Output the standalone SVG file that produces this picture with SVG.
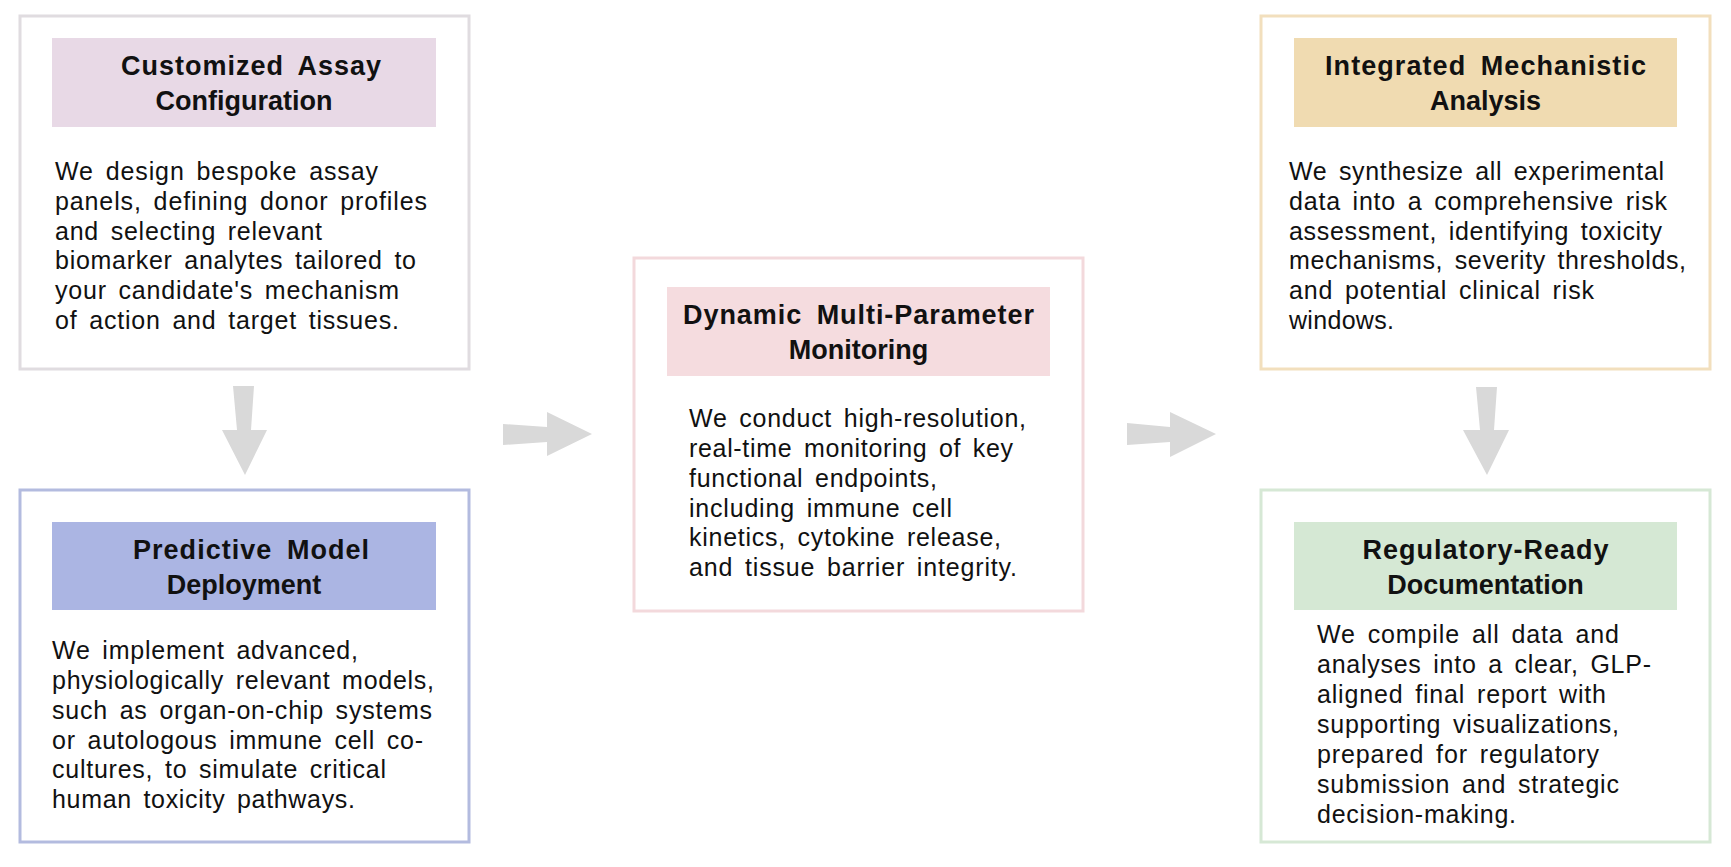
<svg xmlns="http://www.w3.org/2000/svg" width="1731" height="867" viewBox="0 0 1731 867">
<style>
.box{fill:#ffffff;stroke-width:3}
.title{font-family:"Liberation Sans",Arial,sans-serif;font-size:27px;font-weight:bold;fill:#111111;text-anchor:middle;word-spacing:6px}
.body{font-family:"Liberation Sans",Arial,sans-serif;font-size:25px;fill:#111111;letter-spacing:1px;word-spacing:4px}
.arrow{fill:#d9d9d9}
</style>
<rect width="1731" height="867" fill="#ffffff"/>
<g id="connectors">
<polygon class="arrow" points="233,386 254,386 251,430 267,430 245,475 222,430 237,430"/>
<polygon class="arrow" points="503,424 547,427 547,412 592,434 547,456 547,442 503,445"/>
<polygon class="arrow" points="1127,423 1170,427 1170,412 1216,434 1170,457 1170,442 1127,445"/>
<polygon class="arrow" points="1476,387 1497,387 1494,430 1509,430 1487,475 1463,430 1480,430"/>
</g>
<g id="node-assay">
<rect class="box" x="20" y="16" width="449" height="353" stroke="#e0dce0"/>
<rect x="52" y="38" width="384" height="89" fill="#e8d9e6"/>
<text class="title" x="251" y="75" textLength="260">Customized Assay</text>
<text class="title" x="244" y="110">Configuration</text>
<text class="body" x="55" y="180" textLength="324">We design bespoke assay</text>
<text class="body" x="55" y="210" textLength="373">panels, defining donor profiles</text>
<text class="body" x="55" y="240" textLength="268">and selecting relevant</text>
<text class="body" x="55" y="269" textLength="362">biomarker analytes tailored to</text>
<text class="body" x="55" y="299" textLength="345">your candidate's mechanism</text>
<text class="body" x="55" y="329" textLength="345">of action and target tissues.</text>
</g>
<g id="node-model">
<rect class="box" x="20" y="490" width="449" height="352" stroke="#b3bbdf"/>
<rect x="52" y="522" width="384" height="88" fill="#abb5e3"/>
<text class="title" x="251" y="559" textLength="236">Predictive Model</text>
<text class="title" x="244" y="594">Deployment</text>
<text class="body" x="52" y="659" textLength="307">We implement advanced,</text>
<text class="body" x="52" y="689" textLength="383">physiologically relevant models,</text>
<text class="body" x="52" y="719" textLength="381">such as organ-on-chip systems</text>
<text class="body" x="52" y="749" textLength="372">or autologous immune cell co-</text>
<text class="body" x="52" y="778" textLength="335">cultures, to simulate critical</text>
<text class="body" x="52" y="808" textLength="304">human toxicity pathways.</text>
</g>
<g id="node-monitoring">
<rect class="box" x="634" y="258" width="449" height="353" stroke="#f3d9dc"/>
<rect x="667" y="287" width="383" height="89" fill="#f5dcdf"/>
<text class="title" x="858.5" y="324" textLength="351">Dynamic Multi-Parameter</text>
<text class="title" x="858.5" y="359">Monitoring</text>
<text class="body" x="689" y="427" textLength="338">We conduct high-resolution,</text>
<text class="body" x="689" y="457" textLength="325">real-time monitoring of key</text>
<text class="body" x="689" y="487" textLength="249">functional endpoints,</text>
<text class="body" x="689" y="517" textLength="264">including immune cell</text>
<text class="body" x="689" y="546" textLength="313">kinetics, cytokine release,</text>
<text class="body" x="689" y="576" textLength="329">and tissue barrier integrity.</text>
</g>
<g id="node-analysis">
<rect class="box" x="1261" y="16" width="449" height="353" stroke="#f2dfbd"/>
<rect x="1294" y="38" width="383" height="89" fill="#f0dbb1"/>
<text class="title" x="1485.5" y="75" textLength="321">Integrated Mechanistic</text>
<text class="title" x="1485.5" y="110">Analysis</text>
<text class="body" x="1289" y="180" textLength="376">We synthesize all experimental</text>
<text class="body" x="1289" y="210" textLength="379">data into a comprehensive risk</text>
<text class="body" x="1289" y="240" textLength="374">assessment, identifying toxicity</text>
<text class="body" x="1289" y="269" textLength="398">mechanisms, severity thresholds,</text>
<text class="body" x="1289" y="299" textLength="306">and potential clinical risk</text>
<text class="body" x="1289" y="329" textLength="106">windows.</text>
</g>
<g id="node-documentation">
<rect class="box" x="1261" y="490" width="449" height="352" stroke="#d6e8d5"/>
<rect x="1294" y="522" width="383" height="88" fill="#d5e8d4"/>
<text class="title" x="1485.5" y="559" textLength="246">Regulatory-Ready</text>
<text class="title" x="1485.5" y="594">Documentation</text>
<text class="body" x="1317" y="643" textLength="303">We compile all data and</text>
<text class="body" x="1317" y="673" textLength="335">analyses into a clear, GLP-</text>
<text class="body" x="1317" y="703" textLength="290">aligned final report with</text>
<text class="body" x="1317" y="733" textLength="303">supporting visualizations,</text>
<text class="body" x="1317" y="763" textLength="283">prepared for regulatory</text>
<text class="body" x="1317" y="793" textLength="303">submission and strategic</text>
<text class="body" x="1317" y="823" textLength="200">decision-making.</text>
</g>
</svg>
